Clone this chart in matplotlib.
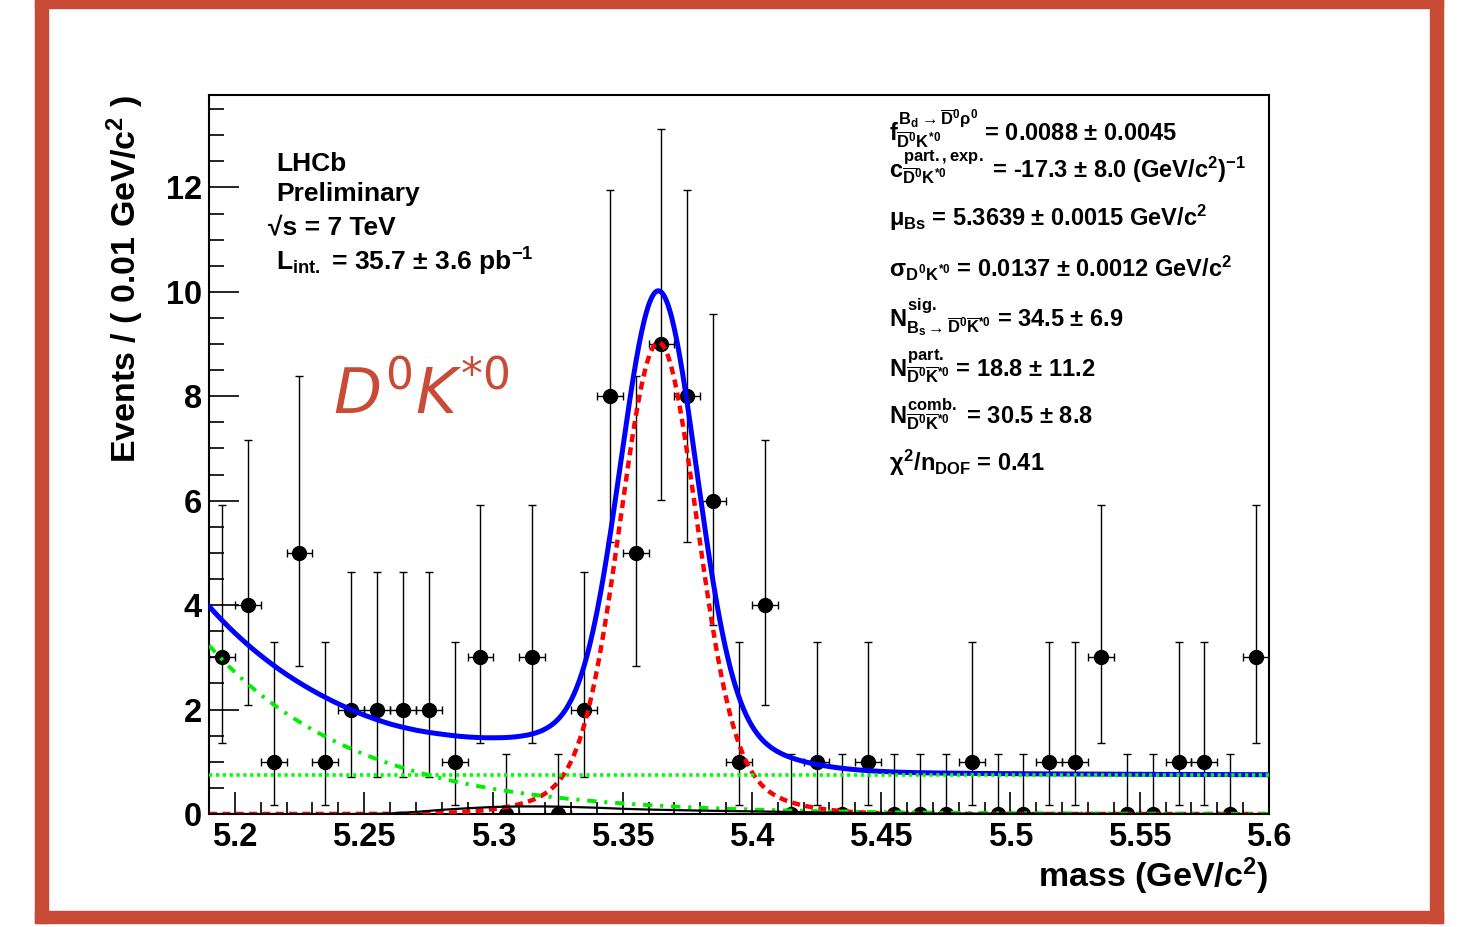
import numpy as np
import matplotlib
matplotlib.use("Agg")
import matplotlib.pyplot as plt
from matplotlib.patches import Rectangle
from matplotlib.ticker import MultipleLocator, FixedLocator

plt.rcParams['font.family'] = ['Liberation Sans', 'DejaVu Sans']
plt.rcParams['mathtext.fontset'] = 'custom'
plt.rcParams['mathtext.rm'] = 'Liberation Sans:bold'
plt.rcParams['mathtext.it'] = 'Liberation Sans:bold'
plt.rcParams['mathtext.bf'] = 'Liberation Sans:bold'
plt.rcParams['mathtext.sf'] = 'Liberation Sans:bold'

W, H = 1463, 927

# %% data: events per 0.01 GeV/c^2 bin
bin_centers = [5.195, 5.205, 5.215, 5.225, 5.235, 5.245, 5.255, 5.265, 5.275, 5.285,
               5.295, 5.305, 5.315, 5.325, 5.335, 5.345, 5.355, 5.365, 5.375, 5.385,
               5.395, 5.405, 5.415, 5.425, 5.435, 5.445, 5.455, 5.465, 5.475, 5.485,
               5.495, 5.505, 5.515, 5.525, 5.535, 5.545, 5.555, 5.565, 5.575, 5.585,
               5.595]
counts = [3, 4, 1, 5, 1, 2, 2, 2, 2, 1,
          3, 0, 3, 0, 2, 8, 5, 9, 8, 6,
          1, 4, 0, 1, 0, 1, 0, 0, 0, 1,
          0, 0, 1, 1, 3, 0, 0, 1, 1, 0,
          3]
bin_half_width = 0.005

# poisson 68% errors (down, up) for n = 0..9
poisson_err_down = [0.0, 0.827, 1.292, 1.633, 1.914, 2.160, 2.383, 2.592, 2.790, 2.981]
poisson_err_up = [1.148, 2.300, 2.638, 2.918, 3.163, 3.383, 3.584, 3.771, 3.946, 4.113]

# fit components
sig_mu = 5.3639
sig_core_sigma = 0.0145
sig_core_peak = 8.13
sig_wide_sigma = 0.030
sig_wide_peak = 0.90
part_start = 3.23      # partially reconstructed bkg at 5.19
part_slope = -17.3
comb_level = 0.75
misid_mass = [5.19, 5.25, 5.26, 5.27, 5.28, 5.29, 5.30, 5.31, 5.32, 5.33, 5.34,
              5.35, 5.36, 5.38, 5.40, 5.42, 5.44, 5.46, 5.6]
misid_level = [0.0, 0.0, 0.01, 0.04, 0.08, 0.11, 0.135, 0.145, 0.145, 0.135, 0.12,
               0.10, 0.085, 0.065, 0.05, 0.035, 0.02, 0.01, 0.0]

x_ticks = [5.2, 5.25, 5.3, 5.35, 5.4, 5.45, 5.5, 5.55, 5.6]
x_tick_labels = ["5.2", "5.25", "5.3", "5.35", "5.4", "5.45", "5.5", "5.55", "5.6"]
y_ticks = [0, 2, 4, 6, 8, 10, 12]

lhcb_lines = ["LHCb", "Preliminary", "\u221as = 7 TeV",
              r"L$_{int.}$ = 35.7 $\pm$ 3.6 pb$^{-1}$"]
fit_lines = [
    r"$f^{B_d\rightarrow\overline{D}^0\rho^0}_{\overline{D}^0K^{*0}}$ = 0.0088 $\pm$ 0.0045",
    r"$c^{part.,exp.}_{\overline{D}^0K^{*0}}$ = -17.3 $\pm$ 8.0 (GeV/c$^2$)$^{-1}$",
    r"$\mu_{Bs}$ = 5.3639 $\pm$ 0.0015 GeV/c$^2$",
    r"$\sigma_{D^0K^{*0}}$ = 0.0137 $\pm$ 0.0012 GeV/c$^2$",
    r"$N^{sig.}_{B_s\rightarrow\overline{D}^0\overline{K}^{*0}}$ = 34.5 $\pm$ 6.9",
    r"$N^{part.}_{\overline{D}^0\overline{K}^{*0}}$ = 18.8 $\pm$ 11.2",
    r"$N^{comb.}_{\overline{D}^0\overline{K}^{*0}}$ = 30.5 $\pm$ 8.8",
    r"$\chi^2$/n$_{DOF}$ = 0.41",
]

# %% curves
counts = np.array(counts)
err_lo = np.array([poisson_err_down[n] for n in counts])
err_hi = np.array([poisson_err_up[n] for n in counts])

m = np.linspace(5.19, 5.6, 800)
sig = (sig_core_peak * np.exp(-0.5 * ((m - sig_mu) / sig_core_sigma) ** 2)
       + sig_wide_peak * np.exp(-0.5 * ((m - sig_mu) / sig_wide_sigma) ** 2))
part = part_start * np.exp(part_slope * (m - 5.19))
comb = np.full_like(m, comb_level)
misid = np.interp(m, misid_mass, misid_level)
total = sig + part + comb + misid

# %% plot
fig = plt.figure(figsize=(W / 100, H / 100), dpi=100, facecolor='w')
ax = fig.add_axes([209 / W, 1 - 814 / H, 1060 / W, 719 / H])

ax.errorbar(bin_centers, counts, yerr=[err_lo, err_hi],
            xerr=bin_half_width, fmt='o', color='k', ms=10, elinewidth=1.0,
            capsize=2.7, capthick=1.0, zorder=2)
ax.plot(m, total, color='#0000ff', lw=3.6, zorder=3)
ax.plot(m, sig, color='#ff0000', lw=3.2, ls=(0, (1.8, 1.2)), zorder=4)
ax.plot(m, part, color='#00ee00', lw=2.8, ls=(0, (2.4, 2.0, 0.8, 2.0)), zorder=5)
ax.plot(m, comb, color='#00ff00', lw=2.6, ls=(0, (0.9, 1.0)), zorder=5)
ax.plot(misid_mass, misid_level, color='k', lw=1.6, zorder=6)

ax.set_xlim(5.19, 5.6)
ax.set_ylim(0, 13.77)
ax.xaxis.set_major_locator(FixedLocator(x_ticks))
ax.set_xticklabels(x_tick_labels)
ax.xaxis.set_minor_locator(MultipleLocator(0.01))
ax.yaxis.set_major_locator(FixedLocator(y_ticks))
ax.yaxis.set_minor_locator(MultipleLocator(0.5))
ax.tick_params(axis='both', which='both', direction='in', top=False, right=False,
               width=1.2, labelsize=23.5)
ax.tick_params(axis='y', which='major', length=21.6, pad=5)
ax.tick_params(axis='y', which='minor', length=10.8)
ax.tick_params(axis='x', which='major', length=15.8, pad=6)
ax.tick_params(axis='x', which='minor', length=9)
plt.setp(ax.get_xticklabels() + ax.get_yticklabels(), fontweight='bold')
for spine in ax.spines.values():
    spine.set_linewidth(1.5)

# axis titles
fig.text(146 / W, 1 - 95 / H, r"Events / ( 0.01 GeV/c$^2$ )", rotation=90,
         ha='right', va='top', fontsize=24.5, fontweight='bold')
fig.text(1268 / W, 1 - 887 / H, r"mass (GeV/c$^2$)", ha='right', va='baseline',
         fontsize=24.5, fontweight='bold')

# LHCb block
for txt, xx, yy in zip(lhcb_lines, [276, 276, 268, 276], [171, 201.5, 234.5, 271]):
    fig.text(xx / W, 1 - yy / H, txt, ha='left', va='baseline', fontsize=19,
             fontweight='bold')

# fit result block
for txt, yy in zip(fit_lines, [141.7, 178, 225.7, 276.7, 326.7, 377, 424, 471]):
    fig.text(889 / W, 1 - yy / H, txt, ha='left', va='baseline', fontsize=17,
             fontweight='bold')

fig.text(333 / W, 1 - 413 / H, r"$D^0K^{*0}$", color='#c84b37', fontsize=45,
         ha='left', va='baseline', math_fontfamily='dejavusans')

# red frame
frame_col = '#c84b36'
for x0, y0, x1, y1 in [(35, 0, 48, 923), (1430, 0, 1443, 923),
                       (35, 0, 1443, 7.5), (35, 911, 1443, 923)]:
    fig.patches.append(Rectangle((x0 / W, 1 - y1 / H), (x1 - x0) / W, (y1 - y0) / H,
                                 transform=fig.transFigure, color=frame_col,
                                 zorder=10))

fig.savefig("out.png", dpi=100)
